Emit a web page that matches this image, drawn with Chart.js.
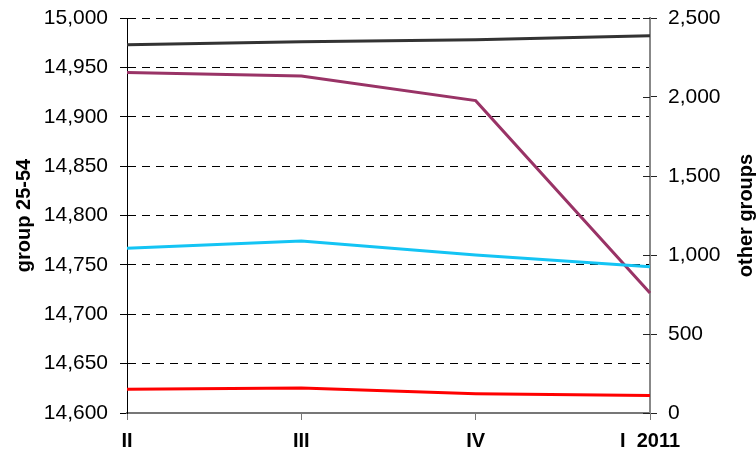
<!DOCTYPE html>
<html>
<head>
<meta charset="utf-8">
<script src="https://cdn.jsdelivr.net/npm/chart.js@4"></script>
<style>
  html, body { margin: 0; padding: 0; background: #fff; }
  #wrap { width: 756px; height: 460px; }
</style>
</head>
<body>
<div id="wrap"><canvas id="chart"></canvas></div>
<script>
const quarters = ['II', 'III', 'IV', 'I  2011'];
const group2554 = [14973, 14976, 14978, 14982];
const otherPurple = [2155, 2133, 1977, 760];
const otherCyan = [1042, 1089, 1000, 926];
const otherRed = [150, 158, 122, 110];

const leftTitle = 'group 25-54';
const rightTitle = 'other groups';

const font = 'Liberation Sans, Arial, sans-serif';

// right axis: ticks crossing the axis line and a title read bottom-to-top
const rightAxisExtras = {
  id: 'rightAxisExtras',
  afterDraw(chart) {
    const ctx = chart.ctx;
    const y2 = chart.scales.y2;
    ctx.save();
    ctx.strokeStyle = '#222';
    ctx.lineWidth = 1;
    y2.ticks.forEach(t => {
      const y = Math.round(y2.getPixelForValue(t.value)) + 0.5;
      ctx.beginPath();
      ctx.moveTo(y2.left - 7, y);
      ctx.lineTo(y2.left, y);
      ctx.stroke();
    });
    ctx.translate(746, (chart.chartArea.top + chart.chartArea.bottom) / 2);
    ctx.rotate(-Math.PI / 2);
    ctx.fillStyle = '#000';
    ctx.font = 'bold 20px ' + font;
    ctx.textAlign = 'center';
    ctx.textBaseline = 'middle';
    ctx.fillText(rightTitle, 0, 0);
    ctx.restore();
  }
};

const lineDs = (data, color, axis, width) => ({
  data: data,
  borderColor: color,
  backgroundColor: color,
  borderWidth: width,
  pointRadius: 0,
  tension: 0,
  yAxisID: axis
});

new Chart(document.getElementById('chart'), {
  type: 'line',
  data: {
    labels: quarters,
    datasets: [
      lineDs(otherRed, '#ff0000', 'y2', 3),
      lineDs(otherCyan, '#14c4f4', 'y2', 3),
      lineDs(otherPurple, '#993366', 'y2', 3),
      lineDs(group2554, '#333333', 'y', 3)
    ]
  },
  options: {
    responsive: true,
    maintainAspectRatio: false,
    animation: false,
    layout: { padding: { top: 18, bottom: 0, left: 0, right: 0 } },
    plugins: { legend: { display: false }, tooltip: { enabled: false } },
    scales: {
      x: {
        offset: false,
        grid: { drawOnChartArea: false, drawTicks: true, tickLength: 7, tickColor: '#777', lineWidth: 1 },
        border: { color: '#777', width: 2 },
        ticks: { color: '#000', font: { family: font, size: 20, weight: 'bold' }, padding: 9, maxRotation: 0, autoSkip: false },
        afterFit: s => { s.height = 47; s.paddingLeft = 0; s.paddingRight = 0; }
      },
      y: {
        position: 'left',
        min: 14600,
        max: 15000,
        ticks: {
          stepSize: 50,
          color: '#000',
          padding: 12,
          font: { family: font, size: 21 },
          callback: v => v.toLocaleString('en-US')
        },
        grid: {
          color: c => c.tick && c.tick.value === 14600 ? 'rgba(0,0,0,0)' : '#000',
          tickColor: '#000',
          tickLength: 7,
          lineWidth: 1
        },
        border: { color: '#000', width: 1, dash: [8, 6] },
        title: { display: true, text: leftTitle, color: '#000', font: { family: font, size: 20, weight: 'bold' }, padding: { top: 12, bottom: 0 } },
        afterFit: s => { s.width = 127; s.paddingTop = 0; s.paddingBottom = 0; }
      },
      y2: {
        position: 'right',
        min: 0,
        max: 2500,
        ticks: {
          stepSize: 500,
          color: '#000',
          padding: 11,
          font: { family: font, size: 21 },
          callback: v => v.toLocaleString('en-US')
        },
        grid: { drawOnChartArea: false, tickColor: '#222', tickLength: 7 },
        border: { color: '#888', width: 2 },
        afterFit: s => { s.width = 106; s.paddingTop = 0; s.paddingBottom = 0; }
      }
    }
  },
  plugins: [rightAxisExtras]
});
</script>
</body>
</html>
